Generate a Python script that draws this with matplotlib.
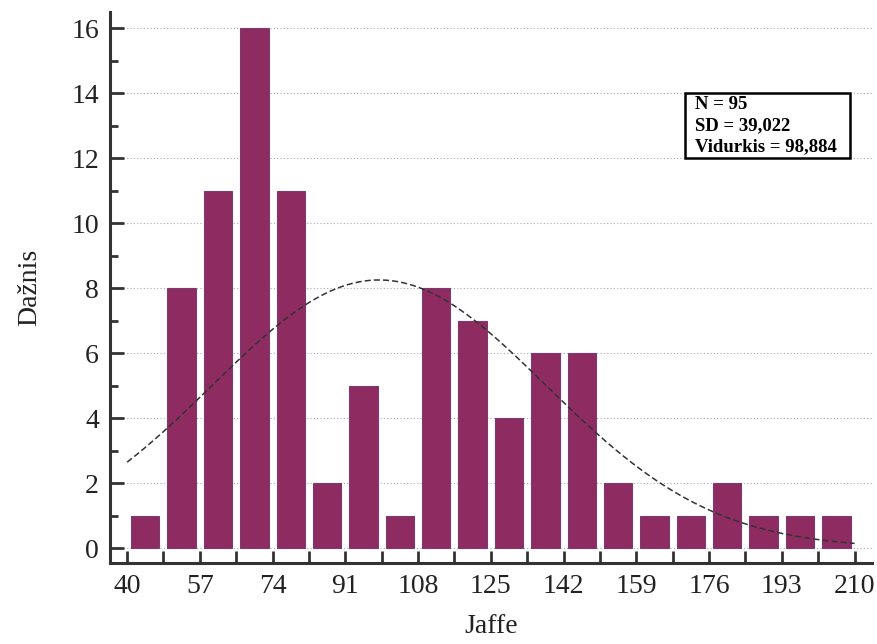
import numpy as np
import matplotlib
matplotlib.use("Agg")
import matplotlib.pyplot as plt
from matplotlib.ticker import MultipleLocator, FixedLocator
from matplotlib.patches import Rectangle

# Jaffe frequency distribution, 20 bins of width 8.5 from 40 to 210
bin_start = 40.0
bin_width = 8.5
counts = [1, 8, 11, 16, 11, 2, 5, 1, 8, 7, 4, 6, 6, 2, 1, 1, 2, 1, 1, 1]
x_tick_labels = [40, 57, 74, 91, 108, 125, 142, 159, 176, 193, 210]
n_total = 95
sd = 39.022
mean = 98.884

plt.rcParams['font.family'] = ['Liberation Serif', 'DejaVu Serif']

fig = plt.figure(figsize=(8.77, 6.44), dpi=100)
ax = fig.add_axes([0.1254, 0.1258, 0.8686, 0.8552])

edges = bin_start + bin_width * np.arange(len(counts) + 1)
centers = (edges[:-1] + edges[1:]) / 2
ax.bar(centers, counts, width=bin_width * 0.78, color='#8E2C62',
       edgecolor='#7A3A72', linewidth=0.8, zorder=2)

# Fitted normal curve scaled to counts
xs = np.linspace(40, 210, 400)
pdf = np.exp(-0.5 * ((xs - mean) / sd) ** 2) / (sd * np.sqrt(2 * np.pi))
ax.plot(xs, n_total * bin_width * pdf, color='#333333', linestyle=(0, (4, 2)),
        linewidth=1.1, zorder=3)

ax.set_xlim(36.0, 214.0)
ax.set_ylim(-0.46, 16.5)

ax.set_xticks(x_tick_labels)
ax.set_xticklabels([str(v) for v in x_tick_labels])
ax.xaxis.set_minor_locator(FixedLocator([e for e in edges if e not in x_tick_labels]))
ax.set_yticks(np.arange(0, 17, 2))
ax.yaxis.set_minor_locator(MultipleLocator(1))

ax.tick_params(axis='both', which='both', direction='in', width=2,
               color='#333333', labelsize=20, labelcolor='#222222')
ax.tick_params(axis='x', which='both', length=9, pad=8)
ax.tick_params(axis='y', which='major', length=10, pad=8)
ax.tick_params(axis='y', which='minor', length=6)

for side in ('top', 'right'):
    ax.spines[side].set_visible(False)
for side in ('left', 'bottom'):
    ax.spines[side].set_linewidth(2.2)
    ax.spines[side].set_color('#333333')

ax.yaxis.grid(True, which='major', color='#aaaaaa', linestyle=(0, (1, 2)),
              linewidth=0.8, zorder=0)
ax.set_axisbelow(True)

ax.set_xlabel('Jaffe', fontsize=20, color='#222222', labelpad=11)
ax.set_ylabel('Dažnis', fontsize=20, color='#222222', labelpad=21)

# Summary statistics box
W, H = 877.0, 644.0
fig.patches.append(Rectangle((685 / W, 1 - 158 / H), 165 / W, 65 / H,
                             transform=fig.transFigure, facecolor='white',
                             edgecolor='black', linewidth=1.8, zorder=5))
fig.text(695 / W, 1 - 96 / H, f'N = {n_total}\nSD = 39,022\nVidurkis = 98,884',
         fontsize=13.5, fontweight='bold', va='top', ha='left',
         linespacing=1.3, zorder=6)

fig.savefig('out.png', dpi=100)
